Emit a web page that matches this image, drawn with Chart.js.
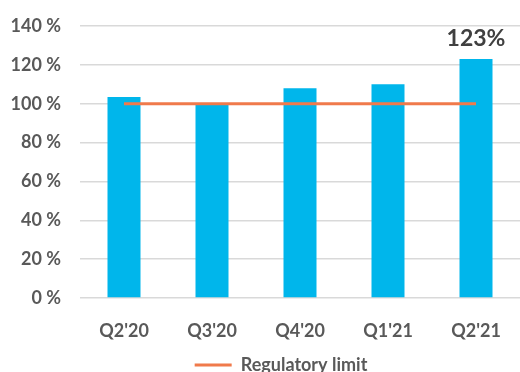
<!DOCTYPE html>
<html>
<head>
<meta charset="utf-8">
<script src="https://cdn.jsdelivr.net/npm/chart.js@4"></script>
<style>
  html, body { margin: 0; padding: 0; background: #fff; }
  #wrap { width: 520px; height: 372px; }
</style>
</head>
<body>
<div id="wrap"><canvas id="myChart" width="520" height="372"></canvas></div>
<script>
// data
var quarters = ["Q2'20", "Q3'20", "Q4'20", "Q1'21", "Q2'21"];
var ratio = [103.5, 99.5, 108, 110, 123];
var regulatoryLimit = [100, 100, 100, 100, 100];
var labelText = "123%";

var barColor = "#00B6EB";
var lineColor = "#F07A4B";

// draws the single value label above the last bar
var lastLabel = {
    id: "lastLabel",
    afterDatasetsDraw(chart) {
        var meta = chart.getDatasetMeta(1);
        var bar = meta.data[meta.data.length - 1];
        var ctx = chart.ctx;
        ctx.save();
        ctx.font = "bold 23px Lato";
        ctx.fillStyle = "#404040";
        ctx.textAlign = "center";
        ctx.textBaseline = "bottom";
        ctx.fillText(labelText, bar.x, bar.y - 9);
        ctx.restore();
    }
};

// legend sits a bit right of the canvas centre in the original
var legendShift = {
    id: "legendShift",
    afterLayout(chart) {
        chart.legend.left += 21;
        chart.legend.right += 21;
    }
};

Chart.defaults.font.family = "Lato";
Chart.defaults.font.size = 18;
Chart.defaults.font.weight = "bold";
Chart.defaults.color = "#595959";

new Chart("myChart", {
    data: {
        labels: quarters,
        datasets: [{
            type: "line",
            label: "Regulatory limit",
            data: regulatoryLimit,
            borderColor: lineColor,
            backgroundColor: lineColor,
            borderWidth: 3,
            pointRadius: 0,
            order: 0
        }, {
            type: "bar",
            label: "Ratio",
            data: ratio,
            backgroundColor: barColor,
            categoryPercentage: 1,
            barPercentage: 0.375,
            order: 1
        }]
    },
    options: {
        responsive: false,
        animation: false,
        layout: { padding: { top: 26, right: 0, left: 0, bottom: -12 } },
        scales: {
            x: {
                grid: { display: false },
                border: { display: false },
                ticks: { padding: 14, color: "#595959" },
                afterFit(scale) { scale.height = 58; }
            },
            y: {
                min: 0,
                max: 140,
                ticks: {
                    stepSize: 20,
                    padding: 19,
                    color: "#595959",
                    callback: v => v + " %"
                },
                grid: { color: "#D9D9D9", lineWidth: 1.5, drawTicks: false },
                border: { display: false },
                afterFit(scale) {
                    scale.width = 80;
                    // tick padding would otherwise push the plot top down
                    scale.paddingTop = 10;
                    scale.paddingBottom = 10;
                }
            }
        },
        plugins: {
            tooltip: { enabled: false },
            legend: {
                position: "bottom",
                labels: {
                    boxWidth: 37,
                    boxHeight: 3,
                    padding: 0,
                    color: "#595959",
                    filter: item => item.text === "Regulatory limit",
                    generateLabels(chart) {
                        return Chart.defaults.plugins.legend.labels.generateLabels(chart).map(l => {
                            l.lineWidth = 0;
                            return l;
                        });
                    }
                }
            }
        }
    },
    plugins: [lastLabel, legendShift]
});
</script>
</body>
</html>
